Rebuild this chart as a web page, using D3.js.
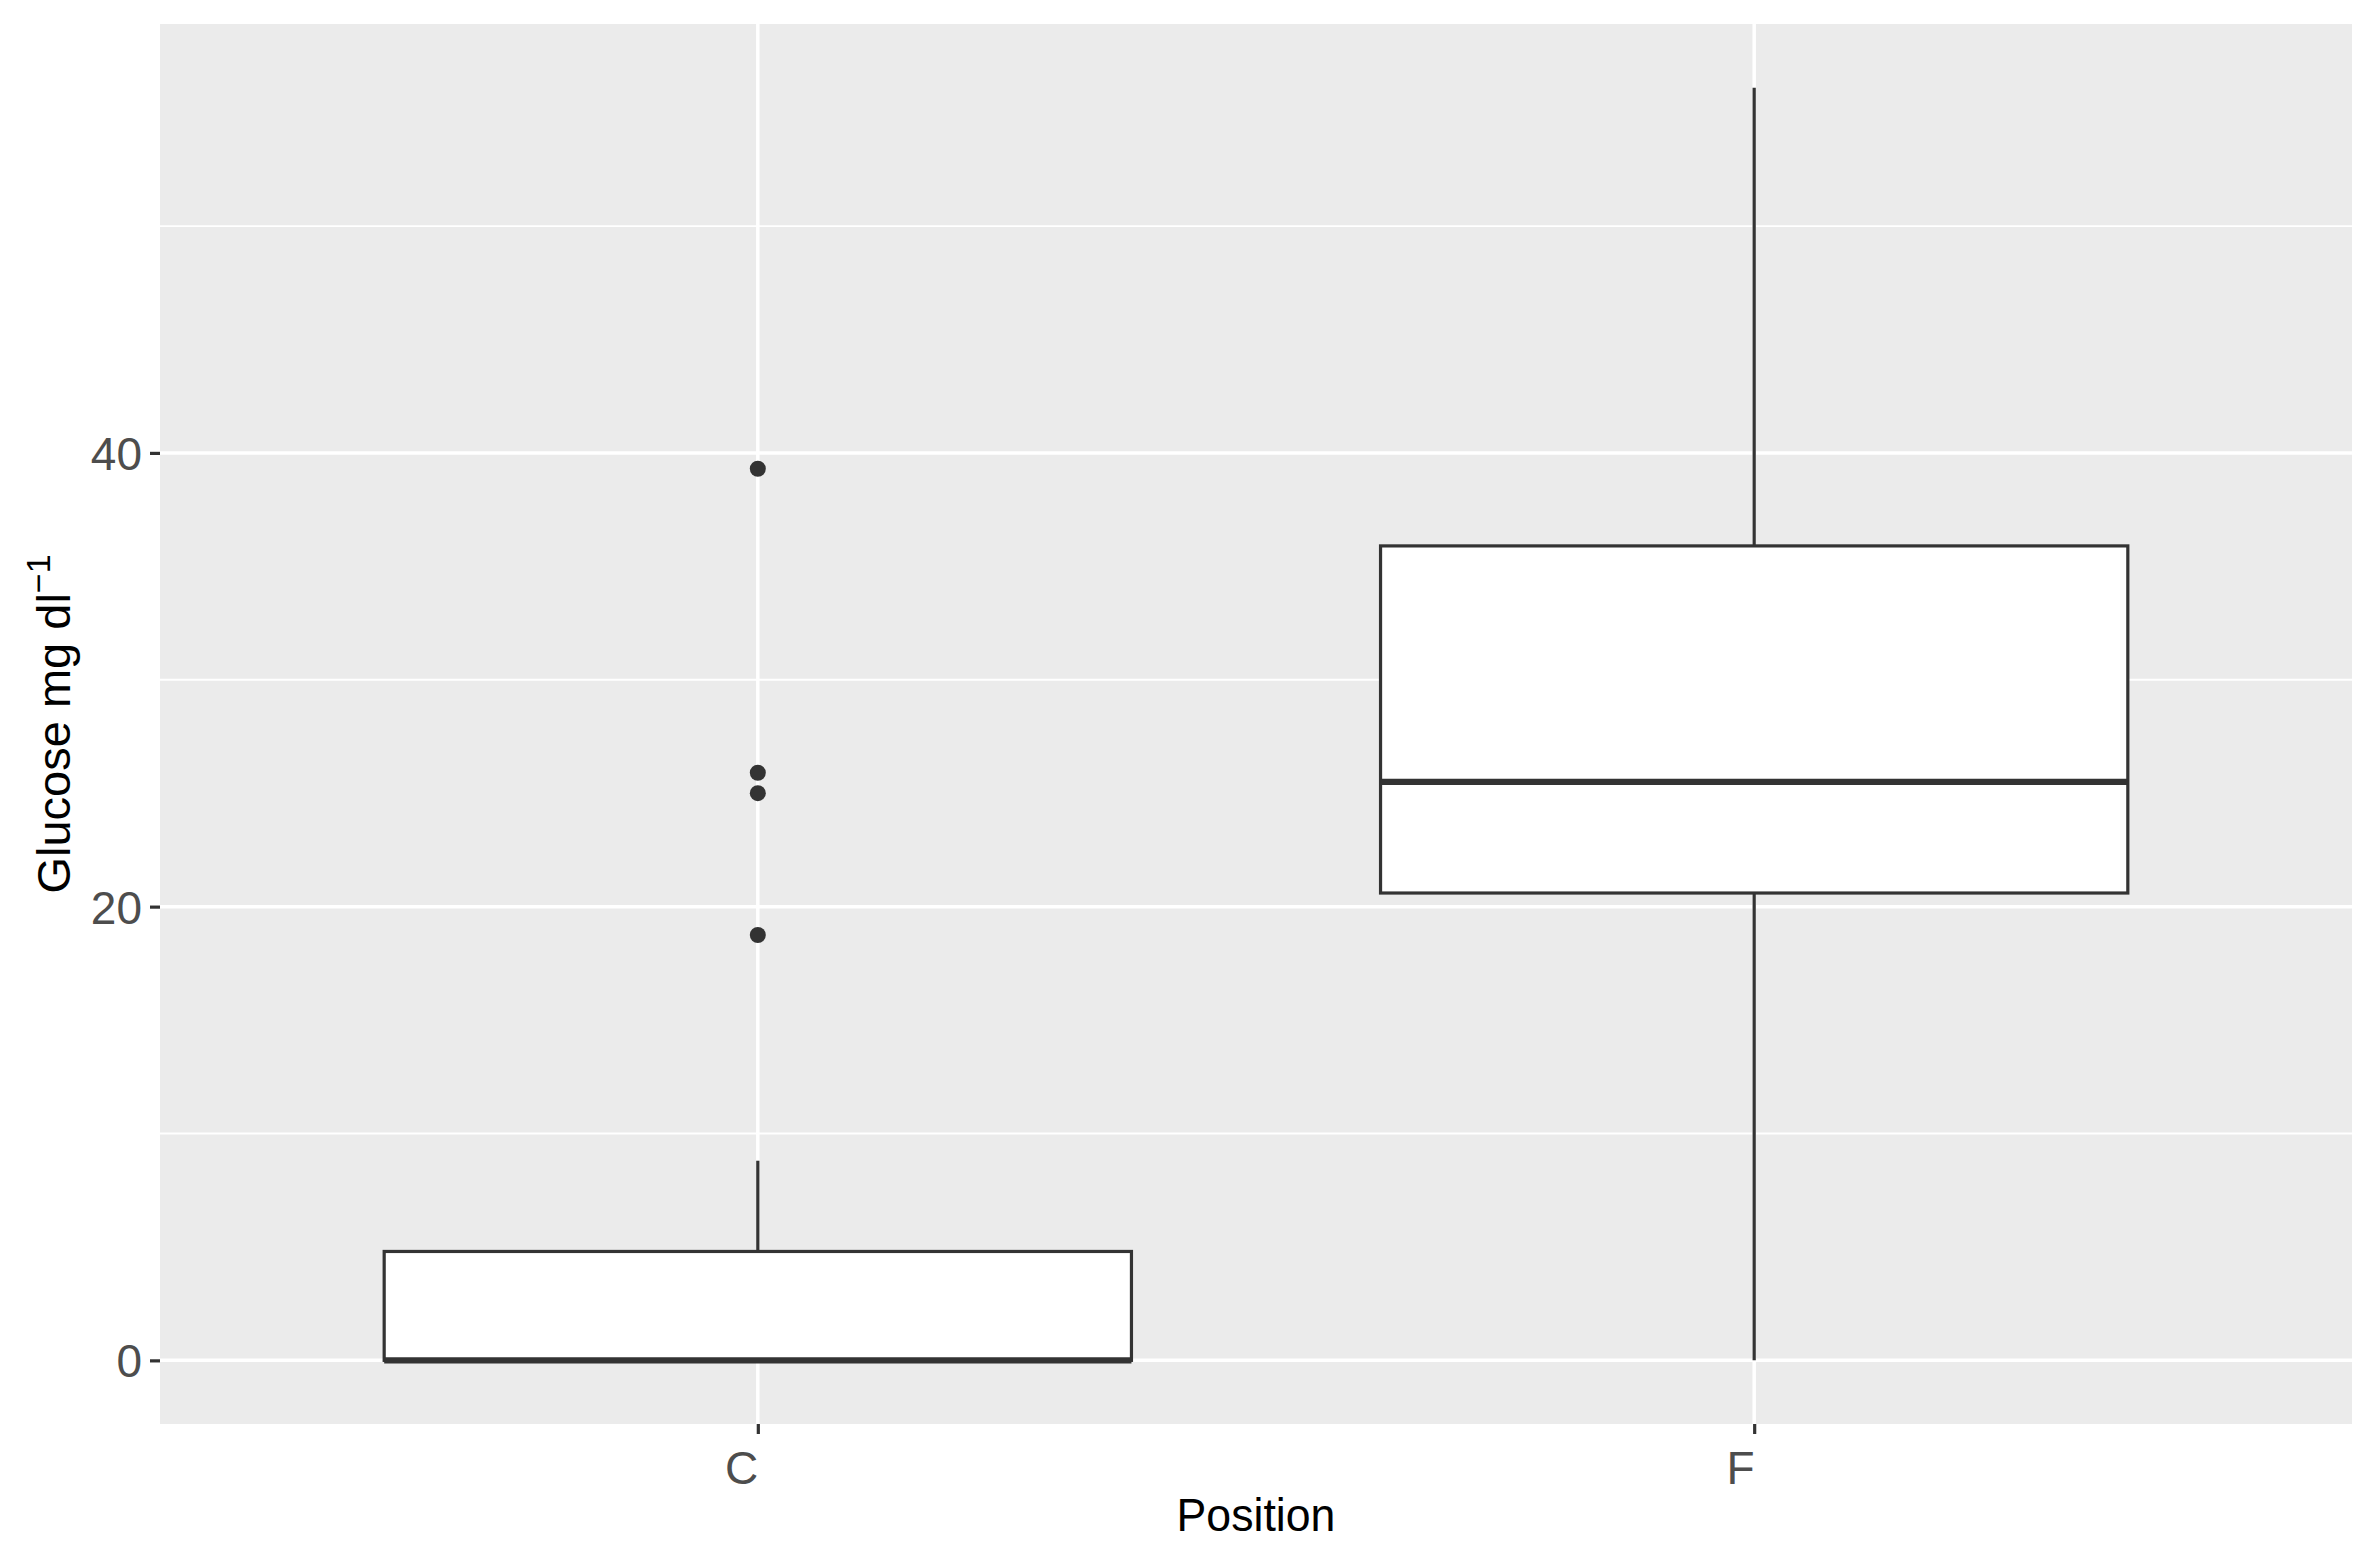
<!DOCTYPE html>
<html>
<head>
<meta charset="utf-8">
<script src="https://cdn.jsdelivr.net/npm/d3@7"></script>
<style>
  html, body { margin: 0; padding: 0; background: #ffffff; }
  svg { display: block; }
  text { font-family: "Liberation Sans", Arial, Helvetica, sans-serif; }
</style>
</head>
<body>
<svg id="chart" width="2370" height="1556"></svg>
<script>
// ---- data ----
const categories = ["C", "F"];
const whiskerLow  = [0, 0];
const q1          = [0, 20.6];
const median      = [0, 25.5];
const q3          = [4.8, 35.9];
const whiskerHigh = [8.8, 56.1];
const outliersC   = [39.3, 25.9, 25.0, 18.75];
const outliersF   = [];
const yTicks      = [0, 20, 40];
const yMinorTicks = [10, 30, 50];
const xTitle = "Position";

// ---- layout ----
const W = 2370, H = 1556;
const panel = { left: 160, right: 2352, top: 24, bottom: 1424 };

const svg = d3.select("#chart");

const dataMin = d3.min(whiskerLow), dataMax = d3.max(whiskerHigh);
const ext = (dataMax - dataMin) * 0.05;
const y = d3.scaleLinear()
  .domain([dataMin - ext, dataMax + ext])
  .range([panel.bottom, panel.top]);

const x = d3.scalePoint()
  .domain(categories)
  .range([panel.left, panel.right])
  .padding(0.6);
const boxW = x.step() * 0.75;

// panel background
svg.append("rect")
  .attr("x", panel.left).attr("y", panel.top)
  .attr("width", panel.right - panel.left)
  .attr("height", panel.bottom - panel.top)
  .attr("fill", "#EBEBEB");

// minor gridlines
svg.append("g").selectAll("line").data(yMinorTicks).join("line")
  .attr("x1", panel.left).attr("x2", panel.right)
  .attr("y1", d => y(d)).attr("y2", d => y(d))
  .attr("stroke", "#ffffff").attr("stroke-width", 1.8);

// major gridlines
svg.append("g").selectAll("line").data(yTicks).join("line")
  .attr("x1", panel.left).attr("x2", panel.right)
  .attr("y1", d => y(d)).attr("y2", d => y(d))
  .attr("stroke", "#ffffff").attr("stroke-width", 3.5);
svg.append("g").selectAll("line").data(categories).join("line")
  .attr("x1", d => x(d)).attr("x2", d => x(d))
  .attr("y1", panel.top).attr("y2", panel.bottom)
  .attr("stroke", "#ffffff").attr("stroke-width", 3.5);

// boxes
const stroke = "#333333";
const boxes = categories.map((c, i) => ({
  c, lo: whiskerLow[i], q1: q1[i], med: median[i], q3: q3[i], hi: whiskerHigh[i]
}));
const bg = svg.append("g");
boxes.forEach(b => {
  const cx = x(b.c);
  bg.append("line").attr("x1", cx).attr("x2", cx)
    .attr("y1", y(b.q3)).attr("y2", y(b.hi))
    .attr("stroke", stroke).attr("stroke-width", 3.2);
  bg.append("line").attr("x1", cx).attr("x2", cx)
    .attr("y1", y(b.q1)).attr("y2", y(b.lo))
    .attr("stroke", stroke).attr("stroke-width", 3.2);
  bg.append("rect")
    .attr("x", cx - boxW / 2).attr("y", y(b.q3))
    .attr("width", boxW).attr("height", Math.max(0, y(b.q1) - y(b.q3)))
    .attr("fill", "#ffffff").attr("stroke", stroke).attr("stroke-width", 3.2);
  bg.append("line")
    .attr("x1", cx - boxW / 2).attr("x2", cx + boxW / 2)
    .attr("y1", y(b.med)).attr("y2", y(b.med))
    .attr("stroke", stroke).attr("stroke-width", 6.4);
});

// outliers
const outs = [
  ...outliersC.map(v => ({ c: "C", v })),
  ...outliersF.map(v => ({ c: "F", v }))
];
svg.append("g").selectAll("circle").data(outs).join("circle")
  .attr("cx", d => x(d.c)).attr("cy", d => y(d.v))
  .attr("r", 8).attr("fill", stroke);

// axes
const yAxis = d3.axisLeft(y).tickValues(yTicks).tickSize(10).tickPadding(8).tickFormat(d3.format("d"));
const gy = svg.append("g").attr("transform", `translate(${panel.left},0)`).call(yAxis);
gy.select(".domain").remove();
gy.selectAll(".tick line").attr("stroke", stroke).attr("stroke-width", 3.2);
gy.selectAll(".tick text").attr("fill", "#4D4D4D").attr("font-size", 46)
  .attr("dy", "0.36em");

const xAxis = d3.axisBottom(x).tickSize(10).tickPadding(14);
const gx = svg.append("g").attr("transform", `translate(0,${panel.bottom})`).call(xAxis);
gx.select(".domain").remove();
gx.selectAll(".tick line").attr("stroke", stroke).attr("stroke-width", 3.2);
gx.selectAll(".tick text").attr("fill", "#4D4D4D").attr("font-size", 46)
  .attr("text-anchor", "end").attr("dy", "0.78em");

// axis titles
svg.append("text")
  .attr("transform", `translate(${(panel.left + panel.right) / 2},1531) scale(0.95,1)`)
  .attr("text-anchor", "middle").attr("font-size", 47).attr("fill", "#000")
  .text(xTitle);

const yt = svg.append("text")
  .attr("transform", `translate(70,${(panel.top + panel.bottom) / 2}) rotate(-90)`)
  .attr("text-anchor", "middle").attr("font-size", 47).attr("fill", "#000");
yt.append("tspan").text("Glucose mg dl");
yt.append("tspan").attr("dy", "-0.6em").attr("font-size", 34).text("\u22121");
</script>
</body>
</html>
